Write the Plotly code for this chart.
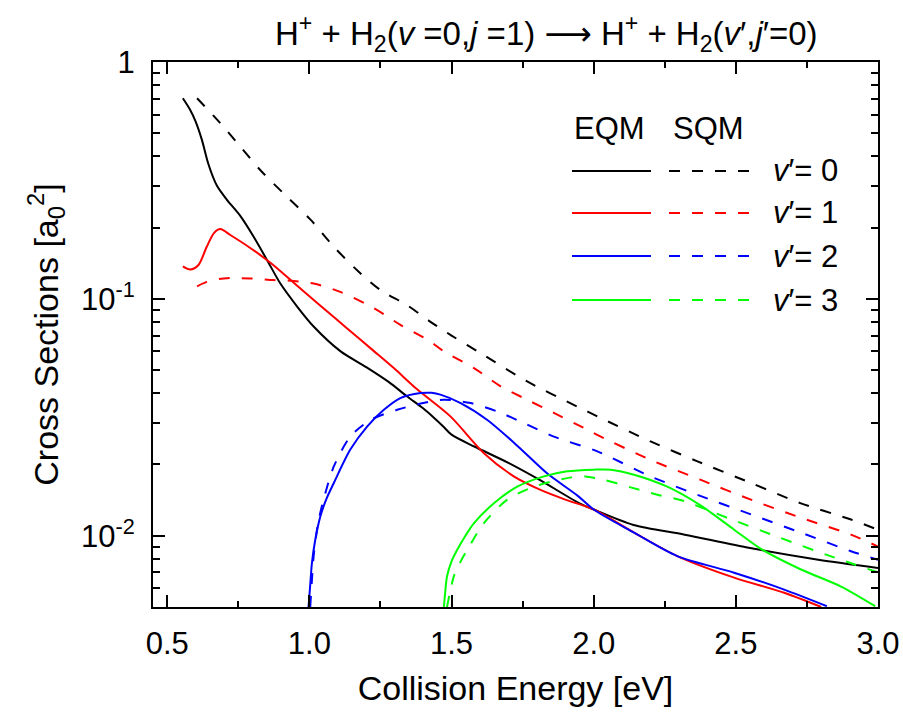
import plotly.graph_objects as go

# ---------------- data ----------------
# v'=0
eqm0_x = [0.555, 0.58, 0.60, 0.622, 0.645, 0.675, 0.71, 0.757, 0.804, 0.851, 0.898, 0.957, 1.015,
          1.11, 1.20, 1.28, 1.344, 1.40, 1.438, 1.47, 1.50, 1.58, 1.70, 1.81, 1.95, 2.00, 2.14,
          2.32, 2.55, 2.79, 3.0]
eqm0_y = [0.703, 0.63, 0.56, 0.469, 0.370, 0.300, 0.262, 0.224, 0.183, 0.146, 0.116, 0.0928, 0.0764,
          0.060, 0.0515, 0.0445, 0.0387, 0.0345, 0.0315, 0.029, 0.0267, 0.0238, 0.0203, 0.0172, 0.0137,
          0.0129, 0.0111, 0.0101, 0.00887, 0.00792, 0.00731]
sqm0_x = [0.605, 0.687, 0.757, 0.827, 0.921, 1.004, 1.086, 1.168, 1.25, 1.344, 1.426, 1.50, 1.602,
          1.766, 1.942, 2.013, 2.20, 2.365, 2.553, 2.729, 2.905, 3.0]
sqm0_y = [0.703, 0.551, 0.44, 0.35, 0.270, 0.216, 0.166, 0.132, 0.109, 0.094, 0.080, 0.070, 0.059,
          0.0448, 0.0351, 0.0319, 0.025, 0.0206, 0.0167, 0.0137, 0.0117, 0.0106]
# v'=1
eqm1_x = [0.555, 0.581, 0.610, 0.639, 0.665, 0.687, 0.722, 0.792, 0.863, 0.945, 1.039, 1.133, 1.226,
          1.297, 1.379, 1.496, 1.614, 1.719, 1.813, 1.90, 2.0, 2.142, 2.294, 2.494, 2.67, 2.80]
eqm1_y = [0.137, 0.133, 0.139, 0.166, 0.19, 0.197, 0.186, 0.164, 0.142, 0.117, 0.0935, 0.075, 0.0603,
          0.051, 0.0415, 0.0319, 0.0223, 0.0178, 0.0156, 0.0142, 0.0129, 0.0103, 0.0082, 0.00665,
          0.00574, 0.005]
sqm1_x = [0.605, 0.639, 0.698, 0.792, 0.874, 0.945, 1.015, 1.109, 1.226, 1.32, 1.426, 1.473, 1.579,
          1.673, 1.766, 1.86, 1.978, 2.025, 2.20, 2.377, 2.553, 2.729, 2.905, 3.0]
sqm1_y = [0.113, 0.118, 0.122, 0.122, 0.120, 0.119, 0.116, 0.107, 0.0914, 0.0777, 0.066, 0.060, 0.051,
          0.0427, 0.0375, 0.033, 0.028, 0.0262, 0.0209, 0.0172, 0.0142, 0.0119, 0.0101, 0.0090]
# v'=2
eqm2_x = [0.997, 1.003, 1.009, 1.02, 1.039, 1.06, 1.086, 1.144, 1.203, 1.262, 1.320, 1.391, 1.43,
          1.461, 1.532, 1.626, 1.731, 1.837, 1.942, 2.0, 2.142, 2.294, 2.494, 2.67, 2.82]
eqm2_y = [0.005, 0.0062, 0.00767, 0.0095, 0.0121, 0.0143, 0.0167, 0.0231, 0.0289, 0.034, 0.0381,
          0.040, 0.0401, 0.0394, 0.0363, 0.0308, 0.0240, 0.0183, 0.0148, 0.0129, 0.0103, 0.0082,
          0.00698, 0.00592, 0.00504]
sqm2_x = [1.003, 1.009, 1.015, 1.03, 1.050, 1.086, 1.144, 1.215, 1.309, 1.401, 1.473, 1.567, 1.660,
          1.754, 1.86, 2.013, 2.20, 2.377, 2.553, 2.729, 2.905, 3.0]
sqm2_y = [0.005, 0.0065, 0.0082, 0.0112, 0.0142, 0.0196, 0.0262, 0.0308, 0.034, 0.0363, 0.0375,
          0.0363, 0.0335, 0.0299, 0.0262, 0.0227, 0.0178, 0.0147, 0.0123, 0.0103, 0.0086, 0.00792]
# v'=3
eqm3_x = [1.473, 1.478, 1.484, 1.50, 1.52, 1.549, 1.579, 1.649, 1.731, 1.825, 1.907, 2.0, 2.06,
          2.142, 2.259, 2.377, 2.494, 2.588, 2.729, 2.87, 2.99]
eqm3_y = [0.005, 0.0058, 0.00673, 0.0078, 0.00873, 0.010, 0.0113, 0.0137, 0.0161, 0.0178, 0.0187,
          0.019, 0.019, 0.0181, 0.0161, 0.0134, 0.0106, 0.0088, 0.0072, 0.0061, 0.00504]
sqm3_x = [1.484, 1.495, 1.508, 1.53, 1.555, 1.614, 1.696, 1.79, 1.907, 1.97, 2.036, 2.13, 2.224,
          2.318, 2.47, 2.646, 2.82, 3.0]
sqm3_y = [0.005, 0.0058, 0.00673, 0.0077, 0.0087, 0.0113, 0.0142, 0.0161, 0.0175, 0.0178, 0.0172,
          0.016, 0.0149, 0.014, 0.0119, 0.0099, 0.0083, 0.0070]

series_labels = ["0", "1", "2", "3"]
colors = ["#000000", "#ff0000", "#0000ff", "#00ff00"]
eqm_data = [(eqm0_x, eqm0_y), (eqm1_x, eqm1_y), (eqm2_x, eqm2_y), (eqm3_x, eqm3_y)]
sqm_data = [(sqm0_x, sqm0_y), (sqm1_x, sqm1_y), (sqm2_x, sqm2_y), (sqm3_x, sqm3_y)]

x_ticks = [0.5, 1.0, 1.5, 2.0, 2.5, 3.0]
x_ticktext = ["0.5", "1.0", "1.5", "2.0", "2.5", "3.0"]
y_ticks = [0.01, 0.1, 1]
y_ticktext = ["10<sup>-2</sup>", "10<sup>-1</sup>", "1"]
y_minor = [0.006, 0.007, 0.008, 0.009] + [k / 100 for k in range(2, 10)] + [k / 10 for k in range(2, 10)]

FONT = "Liberation Sans, Arial, sans-serif"
DASH = "11px,12px"

fig = go.Figure()
for (x, y), c, lab in zip(eqm_data, colors, series_labels):
    fig.add_trace(go.Scatter(x=x, y=y, mode="lines", name=f"EQM v'={lab}",
                             line=dict(color=c, width=2, shape="spline", smoothing=0.8),
                             showlegend=False))
for (x, y), c, lab in zip(sqm_data, colors, series_labels):
    fig.add_trace(go.Scatter(x=x, y=y, mode="lines", name=f"SQM v'={lab}",
                             line=dict(color=c, width=2, dash=DASH, shape="spline", smoothing=0.8),
                             showlegend=False))

# custom legend (paper coords)
L_X0, L_X1, L_Y0, L_Y1 = 153.0, 878.0, 62.0, 607.0
def px(xp):
    return (xp - L_X0) / (L_X1 - L_X0)
def py(yp):
    return (L_Y1 - yp) / (L_Y1 - L_Y0)

shapes = []
annotations = []
annotations.append(dict(x=px(573), y=py(128), xref="paper", yref="paper", text="EQM",
                        showarrow=False, xanchor="left", yanchor="middle", borderpad=0,
                        font=dict(size=31, family=FONT, color="black")))
annotations.append(dict(x=px(672), y=py(128), xref="paper", yref="paper", text="SQM",
                        showarrow=False, xanchor="left", yanchor="middle", borderpad=0,
                        font=dict(size=31, family=FONT, color="black")))
row_y = [171, 213, 256, 300]
for ry, c, lab in zip(row_y, colors, series_labels):
    shapes.append(dict(type="line", xref="paper", yref="paper", x0=px(572), x1=px(651),
                       y0=py(ry), y1=py(ry), line=dict(color=c, width=2)))
    shapes.append(dict(type="line", xref="paper", yref="paper", x0=px(669), x1=px(750),
                       y0=py(ry), y1=py(ry), line=dict(color=c, width=2, dash=DASH)))
    annotations.append(dict(x=px(772), y=py(ry), xref="paper", yref="paper",
                            text=f"<i>v</i>′= {lab}", showarrow=False, xanchor="left",
                            yanchor="middle", borderpad=0,
                            font=dict(size=31, family=FONT, color="black")))

annotations.append(dict(x=px(546), y=py(33), xref="paper", yref="paper",
                        text="H<sup>+</sup> + H<sub>2</sub>(<i>v</i> =0,<i>j</i> =1) "
                             "<span style='font-family:DejaVu Sans'>⟶</span> "
                             "H<sup>+</sup> + H<sub>2</sub>(<i>v</i>′,<i>j</i>′=0)",
                        showarrow=False, xanchor="center", yanchor="middle",
                        font=dict(size=33, family=FONT, color="black")))

fig.update_layout(
    width=903, height=714,
    margin=dict(l=153, r=25, t=62, b=107),
    paper_bgcolor="white", plot_bgcolor="white",
    font=dict(family=FONT, color="black", size=30),
    shapes=shapes, annotations=annotations,
    xaxis=dict(range=[0.45, 3.0], tickmode="array", tickvals=x_ticks, ticktext=x_ticktext,
               ticks="inside", ticklen=12, tickwidth=1.5, tickcolor="black",
               minor=dict(ticks="inside", ticklen=6, tickwidth=1.5, tickcolor="black",
                          tickmode="array", tickvals=[0.75, 1.25, 1.75, 2.25, 2.75]),
               showline=True, linecolor="black", linewidth=2, mirror="ticks",
               showgrid=False, zeroline=False, ticklabelstandoff=8, automargin=False,
               tickfont=dict(size=31, family=FONT),
               title=dict(text="Collision Energy [eV]", font=dict(size=34, family=FONT), standoff=16)),
    yaxis=dict(type="log", range=[-2.30103, 0], tickmode="array", tickvals=y_ticks, ticktext=y_ticktext,
               ticks="inside", ticklen=12, tickwidth=1.5, tickcolor="black",
               minor=dict(ticks="inside", ticklen=7, tickwidth=1.5, tickcolor="black",
                          tickmode="array", tickvals=y_minor),
               showline=True, linecolor="black", linewidth=2, mirror="ticks",
               showgrid=False, zeroline=False, ticklabelstandoff=10, automargin=False,
               tickfont=dict(size=31, family=FONT),
               title=dict(text="Cross Sections [a<sub>0</sub><sup>2</sup>]",
                          font=dict(size=34, family=FONT), standoff=12)),
)

fig.write_html("out.html")
